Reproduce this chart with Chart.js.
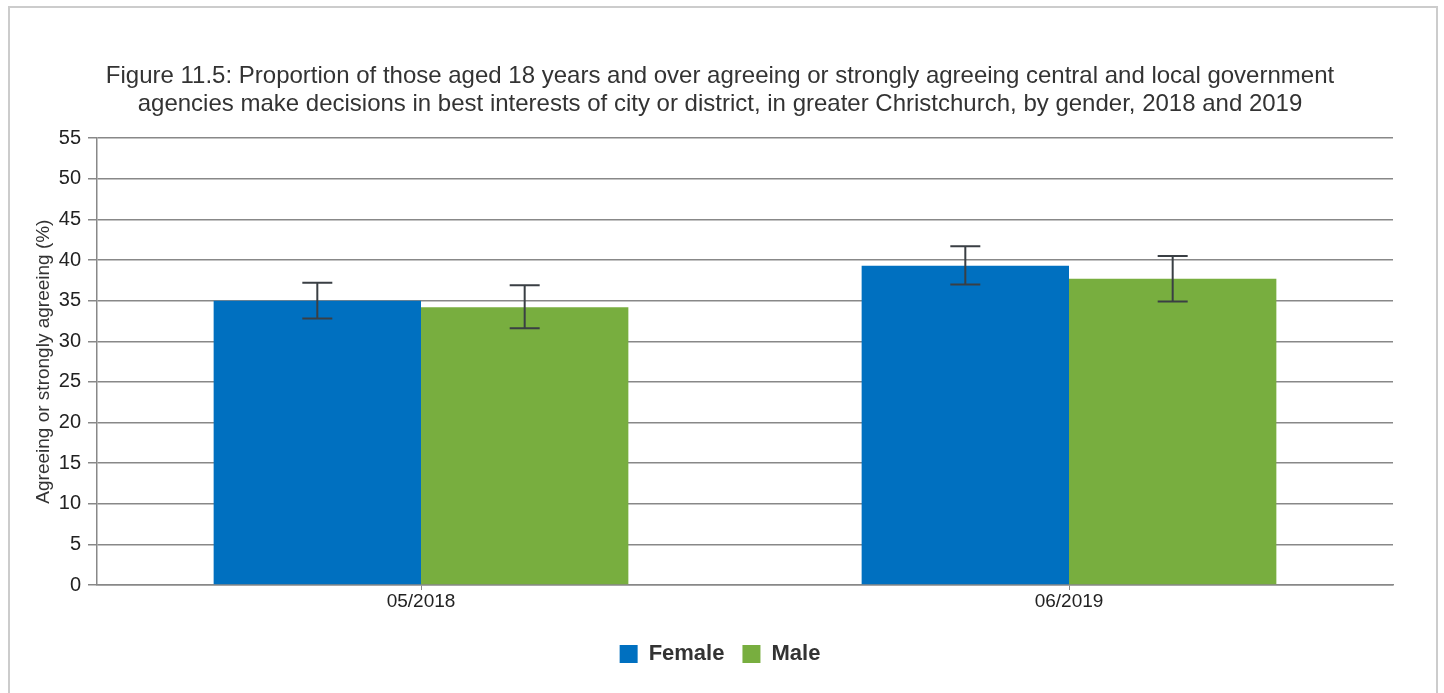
<!DOCTYPE html>
<html>
<head>
<meta charset="utf-8">
<script src="https://cdn.jsdelivr.net/npm/chart.js@4"></script>
<style>
    html, body { margin: 0; padding: 0; background: #fff; overflow: hidden; }
    #frame {
        position: absolute; left: 8px; top: 6px;
        width: 1426px; height: 800px;
        border: 2px solid #cccccc;
    }
    #wrap { position: absolute; left: 0; top: 0; width: 1444px; height: 693px; }
</style>
</head>
<body>
<div id="frame"></div>
<div id="wrap"><canvas id="myChart" width="1444" height="693"></canvas></div>
<script>
const categories = ['05/2018', '06/2019'];
const femaleValues = [35.0, 39.3];
const maleValues = [34.2, 37.7];
const femaleLow = [32.8, 37.0];
const femaleHigh = [37.2, 41.7];
const maleLow = [31.6, 34.9];
const maleHigh = [36.9, 40.5];
const yTicks = [0, 5, 10, 15, 20, 25, 30, 35, 40, 45, 50, 55];

const errorBars = {
    id: 'errorBars',
    afterDatasetsDraw(chart) {
        const ctx = chart.ctx;
        const yScale = chart.scales.y;
        ctx.save();
        ctx.strokeStyle = '#3a3f44';
        ctx.lineWidth = 2;
        chart.data.datasets.forEach((ds, i) => {
            const meta = chart.getDatasetMeta(i);
            meta.data.forEach((bar, j) => {
                const x = bar.x;
                const yLo = yScale.getPixelForValue(ds.errLow[j]);
                const yHi = yScale.getPixelForValue(ds.errHigh[j]);
                ctx.beginPath();
                ctx.moveTo(x, yLo);
                ctx.lineTo(x, yHi);
                ctx.moveTo(x - 15, yLo);
                ctx.lineTo(x + 15, yLo);
                ctx.moveTo(x - 15, yHi);
                ctx.lineTo(x + 15, yHi);
                ctx.stroke();
            });
        });
        ctx.restore();
    }
};

const ctx = document.getElementById('myChart').getContext('2d');
new Chart(ctx, {
    type: 'bar',
    data: {
        labels: categories,
        datasets: [
            {
                label: 'Female',
                data: femaleValues,
                errLow: femaleLow,
                errHigh: femaleHigh,
                backgroundColor: '#0070c0'
            },
            {
                label: 'Male',
                data: maleValues,
                errLow: maleLow,
                errHigh: maleHigh,
                backgroundColor: '#78ae3f'
            }
        ]
    },
    options: {
        responsive: false,
        animation: false,
        categoryPercentage: 0.64,
        barPercentage: 1.0,
        // left padding shifts the centred title/legend toward the reference
        layout: { padding: { left: 47, right: 51, top: 0, bottom: 18 } },
        plugins: {
            title: {
                display: true,
                text: [
                    'Figure 11.5: Proportion of those aged 18 years and over agreeing or strongly agreeing central and local government',
                    'agencies make decisions in best interests of city or district, in greater Christchurch, by gender, 2018 and 2019'
                ],
                color: '#333333',
                font: { family: 'Liberation Sans, Arial, sans-serif', size: 24, weight: 'normal', lineHeight: 1.15 },
                padding: { top: 63, bottom: 20 }
            },
            legend: {
                position: 'bottom',
                labels: {
                    boxWidth: 18,
                    boxHeight: 18,
                    padding: 18,
                    color: '#333333',
                    font: { family: 'Liberation Sans, Arial, sans-serif', size: 22, weight: 'bold' }
                }
            },
            tooltip: { enabled: false }
        },
        scales: {
            x: {
                afterFit(scale) { scale.height = 40; },
                grid: {
                    display: true,
                    drawOnChartArea: false,
                    offset: false,
                    tickLength: 5,
                    color: '#888888'
                },
                border: { color: '#888888', width: 1.5 },
                ticks: {
                    color: '#222222',
                    padding: 0,
                    font: { family: 'Liberation Sans, Arial, sans-serif', size: 19 }
                }
            },
            y: {
                min: 0,
                max: 55,
                afterFit(scale) { scale.width = 50; },
                afterBuildTicks(scale) { scale.ticks = yTicks.map(v => ({ value: v })); },
                grid: { color: '#888888', lineWidth: 1.5, tickLength: 9 },
                border: { color: '#888888', width: 1.5 },
                ticks: {
                    color: '#222222',
                    padding: 7,
                    font: { family: 'Liberation Sans, Arial, sans-serif', size: 20 }
                },
                title: {
                    display: true,
                    text: 'Agreeing or strongly agreeing (%)',
                    color: '#333333',
                    padding: { top: -15, bottom: 0 },
                    font: { family: 'Liberation Sans, Arial, sans-serif', size: 19 }
                }
            }
        }
    },
    plugins: [errorBars]
});
</script>
</body>
</html>
